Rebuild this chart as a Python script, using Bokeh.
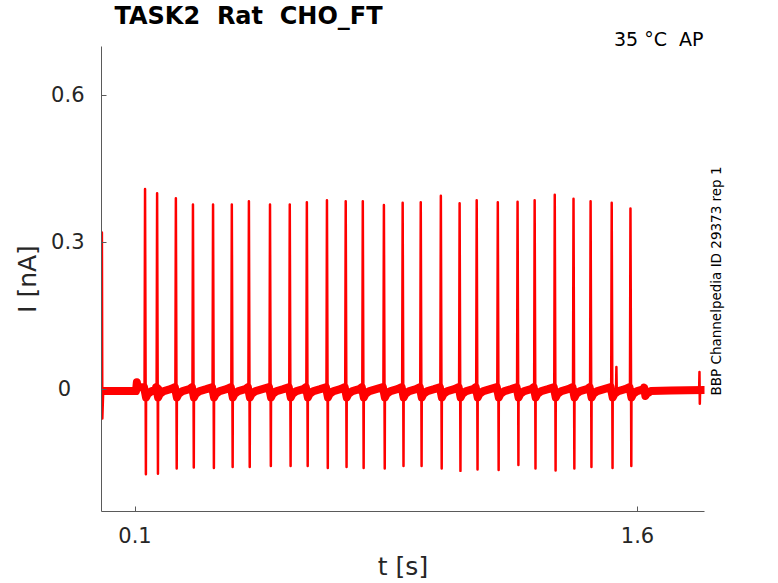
import numpy as np
from bokeh.plotting import figure
from bokeh.models import Range1d, FixedTicker, Title, LinearAxis
from bokeh.embed import file_html
from bokeh.resources import INLINE

# ---------------- data ----------------
title_text = "TASK2 \u00a0Rat \u00a0CHO_FT"
cond_text = "35 \u00b0C \u00a0AP"
side_text = "BBP Channelpedia ID 29373 rep 1"
side_text_start = -0.013   # current level where the upward side note starts

x_ticks = [0.1, 1.6]
x_tick_labels = ["0.1", "1.6"]
y_ticks = [0, 0.3, 0.6]
y_tick_labels = ["0\u00a0\u00a0", "0.3", "0.6"]
x_lim = (0.0, 1.8)
y_lim = (-0.25, 0.7)

# action-current spikes (time of spike [s], peak [nA], trough [nA])
spike_t = [0.130, 0.166, 0.222, 0.273, 0.333, 0.389, 0.440, 0.503, 0.562,
           0.613, 0.673, 0.729, 0.780, 0.843, 0.899, 0.953, 1.013, 1.069,
           1.120, 1.183, 1.242, 1.293, 1.353, 1.409, 1.460, 1.523, 1.579]
spike_peak = [0.409, 0.400, 0.390, 0.377, 0.377, 0.377, 0.384, 0.377, 0.377,
              0.382, 0.386, 0.384, 0.384, 0.376, 0.381, 0.382, 0.395, 0.380,
              0.386, 0.382, 0.383, 0.386, 0.397, 0.389, 0.384, 0.381, 0.369]
spike_trough = [-0.174, -0.173, -0.162, -0.160, -0.161, -0.159, -0.159, -0.157, -0.157,
                -0.157, -0.161, -0.159, -0.161, -0.162, -0.157, -0.157, -0.162, -0.167,
                -0.164, -0.165, -0.155, -0.162, -0.166, -0.162, -0.159, -0.161, -0.157]

# baseline after each spike (offset from spike [s], current [nA]) and just before a spike
recovery_dt = [0.003, 0.008, 0.020, 0.040]
recovery_v = [-0.017, -0.010, -0.004, 0.000]
pre_spike_v = 0.004

# start transient (thin) and pre-stimulus baseline (band)
start_t = [0.0, 0.0012, 0.0025, 0.005]
start_v = [-0.004, 0.32, -0.06, -0.004]
pre_t = [0.005, 0.103, 0.1055, 0.108]
pre_v = [-0.004, -0.004, 0.014, 0.004]

# post-stimulus baseline (band)
post_t = [1.620, 1.6235, 1.627, 1.640, 1.700, 1.800]
post_v = [0.003, -0.014, -0.010, -0.004, -0.003, -0.002]

# small artefacts (time, high, low)
blip_t = [1.537, 1.785]
blip_hi = [0.045, 0.035]
blip_lo = [0.000, -0.030]

# ---------------- figure ----------------
W, H = 770, 583
FL, FR, FT, FB = 101, 704, 43, 512          # frame edges in px

p = figure(width=W, height=H, output_backend="svg", toolbar_location=None,
           x_range=Range1d(*x_lim), y_range=Range1d(*y_lim),
           min_border_left=FL, min_border_right=W - FR,
           min_border_top=FT, min_border_bottom=H - FB)
p.outline_line_color = None
p.grid.visible = False
p.background_fill_color = "white"
p.border_fill_color = "white"

red = "#ff0000"

# band (noisy baseline) drawn as a thick line
bx, by = list(pre_t), list(pre_v)
for t in spike_t:
    bx.append(t - 0.003)
    by.append(pre_spike_v)
    for dt, v in zip(recovery_dt, recovery_v):
        bx.append(t + dt)
        by.append(v)
bx += post_t
by += post_v
p.line(bx, by, line_color=red, line_width=8, line_cap="round", line_join="round")

# spikes as thin lines
xs, ys = [list(start_t)], [list(start_v)]
for t, pk, tr in zip(spike_t, spike_peak, spike_trough):
    xs.append([t - 0.0015, t, t + 0.0025, t + recovery_dt[0]])
    ys.append([pre_spike_v, pk, tr, recovery_v[0]])
for t, hi, lo in zip(blip_t, blip_hi, blip_lo):
    xs.append([t - 0.001, t, t + 0.001, t + 0.002])
    ys.append([0.0, hi, lo, 0.0])
p.multi_line(xs, ys, line_color=red, line_width=2.5, line_join="round")

# axes
for ax in (p.xaxis[0], p.yaxis[0]):
    ax.axis_line_color = "#5a5a5a"
    ax.major_tick_line_color = "#5a5a5a"
    ax.major_tick_in = 5
    ax.major_tick_out = 0
    ax.minor_tick_line_color = None
    ax.major_label_text_font = "DejaVu Sans"
    ax.major_label_text_font_size = "21px"
    ax.major_label_text_color = "#262626"
    ax.axis_label_text_font = "DejaVu Sans"
    ax.axis_label_text_font_size = "25px"
    ax.axis_label_text_font_style = "normal"
    ax.axis_label_text_color = "#262626"

p.xaxis.ticker = FixedTicker(ticks=x_ticks)
p.yaxis.ticker = FixedTicker(ticks=y_ticks)
p.xaxis.major_label_overrides = {t: s for t, s in zip(x_ticks, x_tick_labels)}
p.yaxis.major_label_overrides = {t: s for t, s in zip(y_ticks, y_tick_labels)}
p.xaxis.axis_label = "t [s]"
p.yaxis.axis_label = "I [nA]"
p.xaxis.major_label_standoff = 15
p.xaxis.axis_label_standoff = 6
p.yaxis.major_label_standoff = 17
p.yaxis.axis_label_standoff = 6

# side note: a single upward label on an otherwise empty right axis
side_axis = LinearAxis(ticker=FixedTicker(ticks=[side_text_start]),
                       major_label_overrides={side_text_start: side_text},
                       major_label_orientation=np.pi / 2,
                       major_label_standoff=6,
                       axis_line_color=None, major_tick_line_color=None,
                       minor_tick_line_color=None,
                       major_label_text_font="DejaVu Sans",
                       major_label_text_font_size="13.5px",
                       major_label_text_color="black")
p.add_layout(side_axis, "right")

# condition note, just above the frame on the right
p.add_layout(Title(text=cond_text, align="right", offset=1, standoff=-7,
                   text_font="DejaVu Sans", text_font_size="19px",
                   text_font_style="normal", text_color="black"), "above")

# title
p.title.text = title_text
p.title.align = "left"
p.title.offset = 13
p.title.text_font = "DejaVu Sans"
p.title.text_font_size = "24px"
p.title.text_font_style = "bold"
p.title.text_color = "black"
p.title.standoff = -1

open("out.html", "w").write(file_html(p, INLINE))
